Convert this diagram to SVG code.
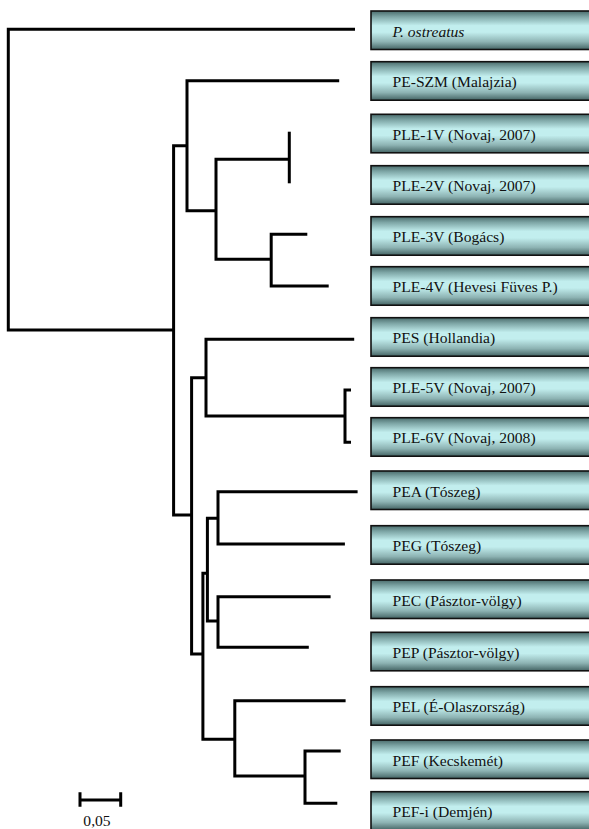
<svg xmlns="http://www.w3.org/2000/svg" width="589" height="829" viewBox="0 0 589 829">
<defs>
<linearGradient id="cyl" x1="0" y1="0" x2="0" y2="1">
<stop offset="0" stop-color="#4a6c6c"/>
<stop offset="0.15" stop-color="#7ea6a6"/>
<stop offset="0.38" stop-color="#c2eeee"/>
<stop offset="0.55" stop-color="#c2eeee"/>
<stop offset="0.8" stop-color="#8db3b3"/>
<stop offset="1" stop-color="#446464"/>
</linearGradient>
<style>
.box{fill:url(#cyl);stroke:#111;stroke-width:1.6}
.lbl{font-family:"Liberation Serif","Times New Roman",serif;font-size:15.6px;fill:#111}
.it{font-style:italic}
.br{fill:none;stroke:#000;stroke-width:3;stroke-linejoin:miter}
</style>
</defs>
<rect width="589" height="829" fill="#fff"/>
<g id="connectors" class="br">
<path d="M355 29.3 H8.3 V330 H173.6"/>
<path d="M187 145.7 H173.6 V515 H191.6"/>
<path d="M339.2 80.7 H187 V210.7 H216"/>
<path d="M289.3 159.3 H216 V259.3 H271.2"/>
<path d="M289.3 131.7 V183.3"/>
<path d="M307.3 234.3 H271.2 V286 H328.7"/>
<path d="M205.9 377.7 H191.6 V654 H202.9"/>
<path d="M354.2 339.3 H206 V416 H345"/>
<path d="M351 390 H345 V442.3 H351"/>
<path d="M207.4 573.3 H202.9 V739.3 H234.8"/>
<path d="M218 518.3 H207.4 V621 H218"/>
<path d="M357.6 491.7 H218 V544 H344.9"/>
<path d="M330.6 596.7 H218 V647.3 H308.8"/>
<path d="M345.6 700.7 H234.8 V776 H305"/>
<path d="M340.7 751 H305 V803.3 H337.3"/>
</g>
<g id="scale">
<path class="br" d="M80 800 H120.7 M80 792.3 V806.7 M120.7 792.3 V806.7"/>
<text class="lbl" x="97" y="826" text-anchor="middle">0,05</text>
</g>
<g id="n1"><rect class="box" x="371" y="11" width="220" height="38.5"/><text class="lbl it" x="392.5" y="36.7">P. ostreatus</text></g>
<g id="n2"><rect class="box" x="371" y="61.7" width="220" height="38.5"/><text class="lbl" x="392.5" y="87.4">PE-SZM (Malajzia)</text></g>
<g id="n3"><rect class="box" x="371" y="114.3" width="220" height="38.5"/><text class="lbl" x="392.5" y="140">PLE-1V (Novaj, 2007)</text></g>
<g id="n4"><rect class="box" x="371" y="165.7" width="220" height="38.5"/><text class="lbl" x="392.5" y="191.4">PLE-2V (Novaj, 2007)</text></g>
<g id="n5"><rect class="box" x="371" y="216.7" width="220" height="38.5"/><text class="lbl" x="392.5" y="242.4">PLE-3V (Bogács)</text></g>
<g id="n6"><rect class="box" x="371" y="266.7" width="220" height="38.5"/><text class="lbl" x="392.5" y="292.4">PLE-4V (Hevesi Füves P.)</text></g>
<g id="n7"><rect class="box" x="371" y="317.7" width="220" height="38.5"/><text class="lbl" x="392.5" y="343.4">PES (Hollandia)</text></g>
<g id="n8"><rect class="box" x="371" y="367.7" width="220" height="38.5"/><text class="lbl" x="392.5" y="393.4">PLE-5V (Novaj, 2007)</text></g>
<g id="n9"><rect class="box" x="371" y="417.7" width="220" height="38.5"/><text class="lbl" x="392.5" y="443.4">PLE-6V (Novaj, 2008)</text></g>
<g id="n10"><rect class="box" x="371" y="471" width="220" height="38.5"/><text class="lbl" x="392.5" y="496.7">PEA (Tószeg)</text></g>
<g id="n11"><rect class="box" x="371" y="525.7" width="220" height="38.5"/><text class="lbl" x="392.5" y="551.4">PEG (Tószeg)</text></g>
<g id="n12"><rect class="box" x="371" y="580" width="220" height="38.5"/><text class="lbl" x="392.5" y="605.7">PEC (Pásztor-völgy)</text></g>
<g id="n13"><rect class="box" x="371" y="632.3" width="220" height="38.5"/><text class="lbl" x="392.5" y="658">PEP (Pásztor-völgy)</text></g>
<g id="n14"><rect class="box" x="371" y="686.7" width="220" height="38.5"/><text class="lbl" x="392.5" y="712.4">PEL (É-Olaszország)</text></g>
<g id="n15"><rect class="box" x="371" y="740" width="220" height="38.5"/><text class="lbl" x="392.5" y="765.7">PEF (Kecskemét)</text></g>
<g id="n16"><rect class="box" x="371" y="791.7" width="220" height="38.5"/><text class="lbl" x="392.5" y="817.4">PEF-i (Demjén)</text></g>
</svg>
